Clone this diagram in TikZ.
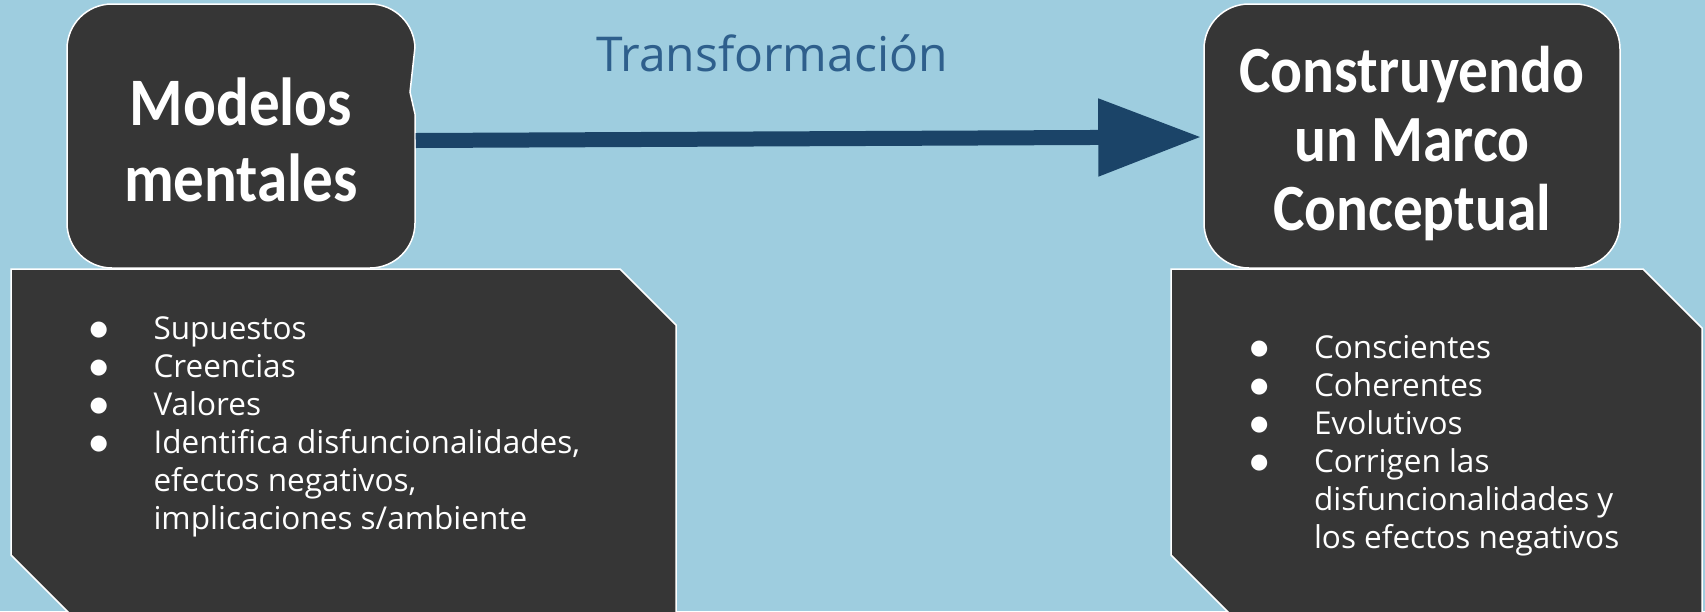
\documentclass[tikz,border=0pt]{standalone}
\usepackage{fontspec}
\usetikzlibrary{arrows.meta}
\setmainfont{Open Sans}
\newfontfamily\headfont[FakeStretch=0.9]{Carlito}
\newfontfamily\symfont{DejaVu Sans}
\definecolor{bgc}{HTML}{9ECDDF}
\definecolor{boxc}{HTML}{363636}
\definecolor{arrowc}{HTML}{1B4468}
\definecolor{titlec}{HTML}{2E5F8C}
\newcommand\mybul{\makebox[63.8pt][l]{\raisebox{4pt}{\symfont\fontsize{21}{21}\selectfont ●}}}
\begin{document}
\begin{tikzpicture}[x=1pt,y=-1pt,
  boxshape/.style={fill=boxc,draw=white,line width=1.5pt},
  roundbox/.style={boxshape,rounded corners=45pt,inner sep=0pt},
  headtext/.style={text=white,inner sep=0pt,anchor=base},
  listtext/.style={text=white,inner sep=0pt,anchor=base west,font=\fontsize{31.5}{38}\selectfont},
  transarrow/.style={draw=arrowc,line width=15pt,-{Triangle[length=103pt,width=74pt]}}
]
\fill[bgc] (0,0) rectangle (1705,611);
\useasboundingbox (0,0) rectangle (1705,611);

% lower boxes
\draw[boxshape] (11,269) -- (620,269) -- (676,325) -- (676,620) -- (76,620) -- (11,555) -- cycle;
\draw[boxshape] (1171,269) -- (1643,269) -- (1702,328) -- (1702,620) -- (1236,620) -- (1171,555) -- cycle;

% upper rounded boxes
\node[roundbox,minimum width=348pt,minimum height=264pt] (L) at (241,136) {};
\node[roundbox,minimum width=416pt,minimum height=264pt] (R) at (1412,136) {};

% notch on left box
\fill[bgc] (417,47) -- (415,47) -- (410,92) -- (415,114) -- (417,114) -- cycle;
\draw[white,line width=1.5pt] (415,47) -- (410,92) -- (415,114);

% titles
\node[headtext,font=\headfont\bfseries\fontsize{68}{76}\selectfont] (Lt) at (241,125)
  {\begin{tabular}[t]{@{}c@{}}Modelos\\mentales\end{tabular}};
\node[headtext,font=\headfont\bfseries\fontsize{66}{69}\selectfont] (Rt) at (1412,92)
  {\begin{tabular}[t]{@{}c@{}}Construyendo\\un Marco\\Conceptual\end{tabular}};

% arrow
\draw[transarrow] ([yshift=-4.5pt]L.east) -- ([yshift=-1pt,xshift=-2pt]R.west);
\node[text=titlec,inner sep=0pt,anchor=base,font=\fontsize{48}{58}\selectfont] (T) at (772,71) {Transformación};

% lists
\node[listtext] (Ll) at (89.5,339) {\begin{tabular}[t]{@{}l@{}l@{}}
\mybul & Supuestos\\
\mybul & Creencias\\
\mybul & Valores\\
\mybul & Identifica disfuncionalidades,\\
 & efectos negativos,\\
 & implicaciones s/ambiente
\end{tabular}};
\node[listtext] (Rl) at (1250,358) {\begin{tabular}[t]{@{}l@{}l@{}}
\mybul & Conscientes\\
\mybul & Coherentes\\
\mybul & Evolutivos\\
\mybul & Corrigen las\\
 & disfuncionalidades y\\
 & los efectos negativos
\end{tabular}};
\end{tikzpicture}
\end{document}
